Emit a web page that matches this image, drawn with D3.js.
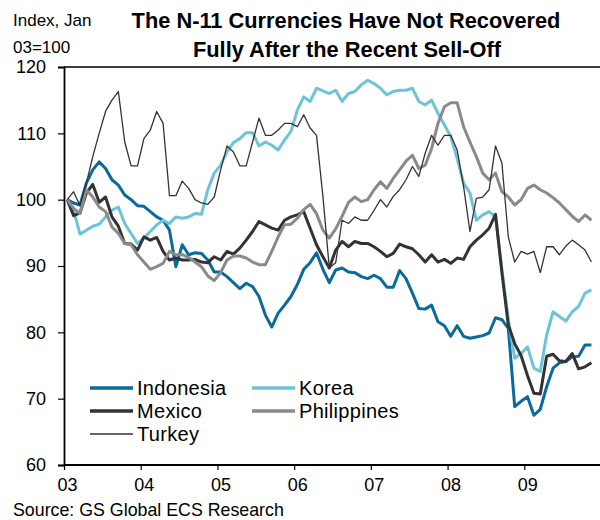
<!DOCTYPE html>
<html>
<head>
<meta charset="utf-8">
<script src="https://cdn.jsdelivr.net/npm/d3@7/dist/d3.min.js"></script>
<style>
body { margin: 0; background: #fff; }
svg { display: block; font-family: "Liberation Sans", Arial, sans-serif; }
</style>
</head>
<body>
<svg id="chart"></svg>
<script>
var width = 600;
var height = 520;

// monthly index values, Jan 03 = 100 (first value is Jan 2003, last Nov 2009)
var indonesia = [100, 99.5, 99.2, 102.5, 104.5, 105.7, 104.7, 103, 102.2, 100.7, 100, 99.1,
    99, 98.2, 97.4, 96.9, 95.4, 89.9, 93.2, 91.7, 92, 91.9, 90.9, 89.1,
    89.1, 88.4, 87.5, 86.6, 87.4, 86.9, 85.4, 82.6, 80.8, 82.9, 84.1, 85.4,
    87.2, 89.5, 90.5, 92, 89.5, 87.5, 89.4, 89.7, 89.1, 89, 88.4, 88.1,
    88.6, 88.1, 86.8, 86.8, 89.3, 88.1, 85.9, 83.6, 83.5, 84.1, 81.6, 81,
    79.4, 81, 79.4, 79.1, 79.3, 79.5, 79.9, 82.2, 81.9, 80.6, 68.8, 69.6,
    70.3, 67.5, 68.4, 71.8, 74.6, 75.4, 75.6, 76.3, 76.4, 78.1, 78.1];
var korea = [100, 98.4, 94.8, 95.4, 96, 96.3, 97.4, 98.4, 98.9, 96.4, 94.9, 93.4,
    94.2, 95.2, 96.2, 96.9, 96.4, 97.4, 97.2, 97.4, 97.9, 97.8, 101.5, 104,
    105.2, 107.2, 108.6, 109.2, 110.1, 110.1, 108.1, 108.7, 108.2, 107.5, 109, 110.3,
    113.5, 115.5, 114.8, 116.8, 116.4, 116, 116.5, 114.8, 116, 116.3, 117.3, 118,
    117.5, 116.8, 115.8, 116.3, 116.5, 116.5, 116.8, 114.8, 114.3, 115, 113, 111.3,
    109.5, 106.2, 102.5, 101, 96.9, 97.7, 98.2, 97.4, 89.5, 82, 76.1, 76.8,
    77.8, 74.6, 74.1, 79.6, 83.1, 82.4, 81.7, 83.1, 83.9, 85.9, 86.4];
var mexico = [100, 97.6, 98, 101, 102.3, 99.6, 100.4, 97.4, 96, 93.4, 93.3, 92.4,
    94.4, 93.9, 94.3, 92.2, 90.9, 91.2, 90.9, 90.9, 91, 90.6, 90.5, 91.4,
    90.9, 92.2, 91.8, 92.7, 93.9, 95.2, 96.7, 96.2, 95.7, 95.4, 96.9, 97.4,
    97.7, 98.2, 95.7, 93.2, 91.4, 89.7, 92.4, 93.7, 92.9, 93.7, 93.4, 93.4,
    92.9, 92.2, 91.4, 91.9, 93.3, 92.9, 92.6, 91.7, 90.6, 91.7, 90.6, 91,
    90.4, 91.2, 91, 92.9, 93.9, 94.7, 95.7, 97.8, 89, 81.1, 78.3, 76.5,
    73.5, 70.8, 70.7, 76.4, 76.7, 75.7, 75.6, 76.8, 74.5, 74.8, 75.4];
var philippines = [100, 98.7, 97.9, 101.5, 100.4, 98.9, 98.2, 95.9, 94.9, 93.4, 93.2, 91.7,
    90.6, 89.5, 89.9, 90.4, 92.2, 91.7, 91.7, 91.3, 90.6, 89.9, 88.5, 87.8,
    89, 90.9, 91.5, 91.5, 91.2, 90.6, 90.2, 90.2, 92.2, 94.4, 96.2, 96.3,
    97.2, 98.5, 99.3, 97.9, 95.4, 94.2, 95.6, 97.5, 99.6, 100.4, 99.7, 100,
    101.5, 102.7, 101.7, 103.2, 104.5, 105.8, 106.7, 104.7, 105.2, 107.7, 111.5, 114,
    114.6, 114.6, 111, 108.7, 106.5, 104, 103, 104, 101.2, 100.4, 99.2, 100,
    101.7, 102.2, 101.5, 101, 100.3, 99.5, 98.5, 97.5, 96.7, 97.7, 96.9];
var turkey = [100, 101.2, 99.1, 102.5, 106.5, 110, 113.3, 115, 116.3, 108.7, 105.1, 105.1,
    109.2, 110.5, 113.3, 111.5, 100.6, 100.6, 102.8, 101.7, 100, 99.5, 99.3, 100.4,
    104.5, 108.1, 107.2, 105.1, 105.1, 108.7, 112.3, 109.7, 109.7, 110.5, 111.5, 111.5,
    111, 112.8, 110.8, 109.7, 100.5, 89.7, 90.5, 96.9, 96.4, 97.4, 96.9, 96.9,
    98.4, 100, 98.9, 100.5, 101.5, 103, 105, 103.5, 107, 109.7, 108.2, 109.7,
    109.7, 107.5, 102, 95.2, 100.2, 100.4, 101.5, 108.1, 105.5, 94.4, 90.6, 92.2,
    91.8, 92.2, 89, 92.9, 92.9, 91.7, 93, 93.9, 93.2, 92.4, 90.6];

var seriesNames = ["Indonesia", "Korea", "Mexico", "Philippines", "Turkey"];
var seriesColors = ["#0a6a9c", "#6dc4d9", "#333333", "#8a8a8a", "#333333"];
var seriesWidths = [3, 3, 3, 3, 1.3];
var seriesValues = [indonesia, korea, mexico, philippines, turkey];

var yearLabels = ["03", "04", "05", "06", "07", "08", "09"];
var yTicks = [60, 70, 80, 90, 100, 110, 120];

var svg = d3.select("#chart")
    .attr("width", width)
    .attr("height", height);

// scales: x in months since Jan 2003, points sit mid-month
var x = d3.scaleLinear().domain([0, 84]).range([64, 601]);
var y = d3.scaleLinear().domain([60, 120]).range([465, 67]);

var line = d3.line()
    .x(function (d, i) { return x(i + 0.5); })
    .y(function (d) { return y(d); });

// lines
svg.append("g").attr("class", "lines")
    .selectAll("path")
    .data(seriesValues)
    .enter()
    .append("path")
    .attr("d", function (d) { return line(d); })
    .attr("fill", "none")
    .attr("stroke", function (d, i) { return seriesColors[i]; })
    .attr("stroke-width", function (d, i) { return seriesWidths[i]; })
    .attr("stroke-linejoin", "round");

// top frame line
svg.append("line")
    .attr("x1", x(0)).attr("x2", 600)
    .attr("y1", y(120)).attr("y2", y(120))
    .attr("stroke", "#000")
    .attr("stroke-width", 1.6);

// y axis
var yAxis = svg.append("g")
    .attr("transform", "translate(" + x(0) + ",0)")
    .call(d3.axisLeft(y).tickValues(yTicks).tickSize(6).tickPadding(12));
yAxis.select(".domain").attr("stroke-width", 1.8);
yAxis.selectAll(".tick line").attr("stroke-width", 1.2);
yAxis.selectAll("text")
    .attr("font-size", 18)
    .attr("font-family", "Liberation Sans, Arial, sans-serif")
    .attr("fill", "#000");

// x axis
var xAxis = svg.append("g")
    .attr("transform", "translate(0," + y(60) + ")")
    .call(d3.axisBottom(x)
        .tickValues(d3.range(yearLabels.length).map(function (i) { return i * 12; }))
        .tickFormat(function (d) { return yearLabels[d / 12]; })
        .tickSizeInner(5)
        .tickSizeOuter(0)
        .tickPadding(8));
xAxis.select(".domain").attr("d", "M" + x(0) + ",0H600").attr("stroke-width", 1.8);
xAxis.selectAll(".tick line").attr("stroke-width", 1.2);
xAxis.selectAll("text")
    .attr("font-size", 18)
    .attr("font-family", "Liberation Sans, Arial, sans-serif")
    .attr("fill", "#000")
    .attr("dx", 3);

// titles
svg.append("text")
    .attr("x", 346).attr("y", 28)
    .attr("text-anchor", "middle")
    .attr("font-size", 21.8)
    .attr("font-weight", "bold")
    .text("The N-11 Currencies Have Not Recovered");
svg.append("text")
    .attr("x", 347).attr("y", 57)
    .attr("text-anchor", "middle")
    .attr("font-size", 21.8)
    .attr("font-weight", "bold")
    .text("Fully After the Recent Sell-Off");

svg.append("text")
    .attr("x", 13).attr("y", 26)
    .attr("font-size", 17)
    .text("Index, Jan");
svg.append("text")
    .attr("x", 13).attr("y", 53)
    .attr("font-size", 17)
    .text("03=100");

svg.append("text")
    .attr("x", 13).attr("y", 516)
    .attr("font-size", 17.8)
    .text("Source: GS Global ECS Research");

// legend
var legendPos = [[90, 388], [252, 388], [90, 411], [252, 411], [90, 434]];
var legend = svg.append("g").attr("class", "legend")
    .selectAll("g")
    .data(seriesNames)
    .enter()
    .append("g")
    .attr("transform", function (d, i) {
        return "translate(" + legendPos[i][0] + "," + legendPos[i][1] + ")";
    });

legend.append("line")
    .attr("x1", 0).attr("x2", 43)
    .attr("y1", 0).attr("y2", 0)
    .attr("stroke", function (d, i) { return seriesColors[i]; })
    .attr("stroke-width", function (d, i) { return seriesWidths[i] == 3 ? 3.5 : 1.5; });

legend.append("text")
    .attr("x", 47).attr("y", 6.5)
    .attr("font-size", 20)
    .attr("letter-spacing", 0.3)
    .text(function (d) { return d; });
</script>
</body>
</html>
